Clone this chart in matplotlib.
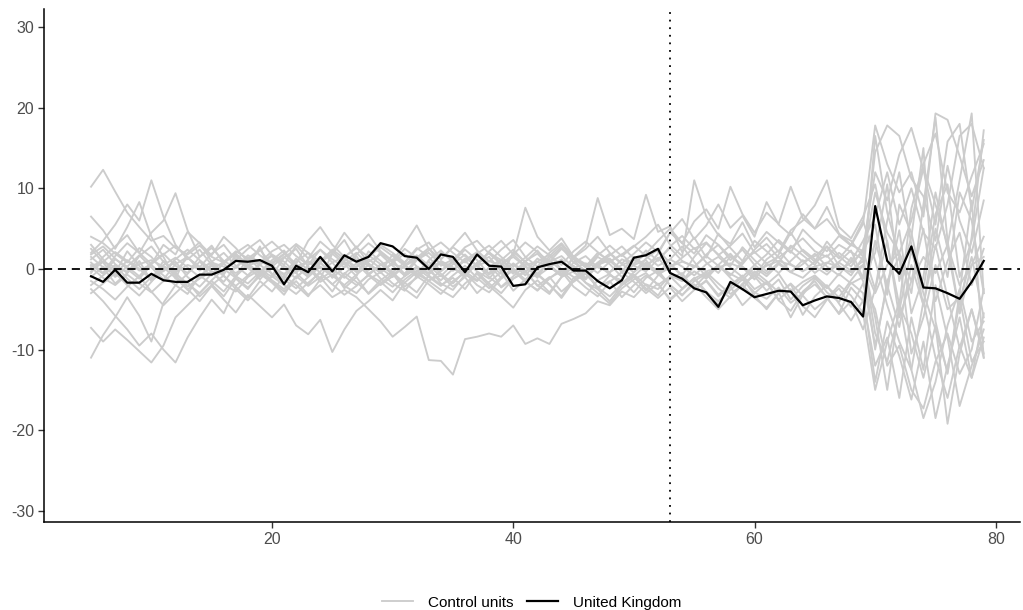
import matplotlib
matplotlib.use("Agg")
import matplotlib.pyplot as plt
from matplotlib.lines import Line2D

plt.rcParams['font.family'] = ['Liberation Sans', 'DejaVu Sans']
plt.rcParams['axes.unicode_minus'] = False

years = list(range(5, 80))
treatment_year = 53

united_kingdom = [
    -0.9, -1.6, -0.1, -1.7, -1.7, -0.6, -1.4, -1.6, -1.6, -0.7, -0.7, -0.1, 1.0, 0.9, 1.1,
    0.4, -1.9, 0.4, -0.4, 1.5, -0.3, 1.7, 0.9, 1.5, 3.2, 2.8, 1.6, 1.4, 0.0, 1.8,
    1.5, -0.4, 1.8, 0.4, 0.3, -2.1, -1.9, 0.2, 0.6, 0.9, -0.2, -0.2, -1.5, -2.4, -1.4,
    1.4, 1.7, 2.5, -0.5, -1.2, -2.4, -2.9, -4.7, -1.6, -2.5, -3.5, -3.1, -2.7, -2.8, -4.5,
    -3.9, -3.4, -3.6, -4.1, -5.9, 7.8, 1.0, -0.6, 2.8, -2.3, -2.4, -3.0, -3.7, -1.6, 1.0,
]

control_01 = [
    10.2, 12.3, 9.6, 7.0, 5.2, 3.5, 4.1, 2.6, 1.8, 2.9, 1.5, 0.8, 2.2, 1.3, 0.5,
    1.8, 0.9, -0.5, 1.2, 2.4, 0.8, 1.5, -0.3, 0.9, 1.8, 0.4, -0.8, 1.1, 2.0, 0.6,
    -0.2, 1.3, 0.5, 2.1, 0.7, -0.6, 1.0, 1.9, 0.3, -0.9, 0.8, 1.6, 0.2, -0.4, 1.2,
    0.6, 2.3, 1.0, 2.8, 4.1, 2.5, 3.3, 1.7, 2.9, 4.4, 2.0, 3.1, 1.4, 2.6, 3.8,
    2.2, 1.5, 3.0, 2.1, 1.2, 14.5, 17.8, 16.5, 11.2, 9.0, 3.5, 12.8, 6.0, 2.0, 8.5,
]
control_02 = [
    6.5, 4.8, 2.5, 5.2, 8.3, 4.0, 1.5, -1.2, 2.0, 3.3, 0.9, -0.5, 1.6, 0.2, 2.8,
    -0.8, 1.4, 2.5, 0.3, -1.2, 1.9, 0.6, -0.9, 2.2, 1.0, -0.4, 0.8, 2.6, 1.5, -0.3,
    0.9, 2.4, 1.1, -0.7, 0.5, 1.8, 0.4, -1.1, 1.3, 2.7, 0.8, -0.2, 1.5, 0.6, -1.0,
    0.7, 1.9, 3.5, 5.0, 3.2, 1.9, 4.2, 3.0, 1.1, 2.4, 0.5, 1.8, 3.6, 2.2, 0.9,
    1.6, 2.8, 0.4, -0.8, 1.5, -8.0, -11.5, -5.2, 2.3, -3.0, -7.5, -12.8, -4.0, 1.5, -6.0,
]
control_03 = [
    -11.0, -8.2, -6.0, -3.5, -5.8, -9.0, -4.2, -2.0, -3.1, -0.8, -1.9, -3.4, -1.2, -2.5, -0.6,
    -1.7, -3.2, -0.9, -2.1, -1.0, -2.8, -0.5, -1.6, -3.0, -1.4, -0.3, -2.2, -1.1, 0.2, -1.8,
    -2.6, -0.7, -1.5, 0.1, -2.3, -1.2, -0.4, -2.0, -3.1, -1.0, 0.3, -1.7, -2.5, -0.8, -1.4,
    -2.9, -1.1, -0.2, -2.0, -3.3, -1.5, -0.6, -2.4, -3.6, -1.8, -0.9, -2.7, -1.3, -3.8, -2.1,
    -1.0, -2.9, -4.1, -1.7, -3.0, -14.0, -6.5, -10.8, -16.2, -9.0, -18.5, -12.0, -6.0, -13.5, -8.5,
]
control_04 = [
    -7.3, -9.0, -7.5, -8.8, -10.2, -11.6, -9.5, -6.0, -4.5, -3.0, -1.5, -2.8, -0.9, 0.5, -1.3,
    0.4, -0.8, 1.3, -0.2, 0.9, -1.1, 0.2, 1.6, -0.6, 0.5, 1.2, -0.9, 0.3, -0.5, 1.0,
    0.2, -1.0, 0.8, 1.5, -0.3, 0.6, -0.8, 0.9, 1.8, -0.1, 0.4, -1.2, 0.7, 1.3, -0.4,
    0.5, 1.1, -0.7, 0.2, 1.4, 2.6, 0.8, -0.5, 1.6, 0.3, -0.9, 1.2, 2.3, 0.6, -0.3,
    0.9, 1.7, -0.2, 0.8, 2.1, 5.5, -3.2, 8.0, 4.5, -2.5, 6.8, 10.5, -1.0, 3.5, 12.5,
]
control_05 = [
    2.0, 3.5, 5.5, 8.0, 6.0, 11.0, 6.5, 3.0, 1.2, 2.4, 0.5, -0.7, 1.8, 0.6, -0.4,
    1.1, 2.3, 0.2, -1.0, 0.8, 1.9, 3.6, 1.0, -0.2, 2.1, 0.9, -0.6, 1.4, 2.6, 0.4,
    1.2, -0.5, 0.7, 2.0, 1.1, -0.4, 0.9, 2.3, 0.5, -0.8, 1.6, 0.3, 2.0, 1.0, -0.3,
    1.5, 0.4, -0.6, 1.2, 2.8, 0.9, -1.0, 0.5, 1.9, 0.2, -1.3, 0.7, 1.5, -0.4, 0.6,
    1.9, 0.3, -0.8, 1.4, -1.5, -9.5, -2.0, -7.2, 0.5, -4.5, 3.0, -3.5, -9.8, -5.0, -10.5,
]
control_06 = [
    0.8, -0.5, 1.6, 3.2, 2.0, 4.5, 6.0, 9.4, 4.8, 1.5, 2.9, 0.7, -0.9, 1.3, 2.4,
    0.5, -1.2, 0.9, 2.0, 0.2, -0.9, 1.4, 2.8, 0.7, -0.4, 1.8, 0.6, -1.0, 1.1, 2.3,
    0.8, -0.6, 1.7, 0.4, -1.1, 2.1, 0.9, -0.2, 1.6, 3.0, 1.2, -0.5, 0.8, 1.9, 0.6,
    -0.4, 1.3, 2.4, 0.7, -0.8, 1.5, 3.2, 1.8, 0.4, 2.7, 1.1, -0.3, 1.8, 4.5, 2.2,
    0.9, 3.4, 1.6, 0.3, 2.5, 12.0, 8.5, 14.2, 17.5, 12.3, 5.5, 15.8, 18.0, 7.2, 16.0,
]
control_07 = [
    -2.5, -4.0, -5.8, -7.5, -9.5, -8.0, -10.0, -11.6, -8.5, -6.0, -3.8, -5.5, -2.2, -3.6, -1.5,
    -2.8, -0.9, -2.0, -3.4, -1.3, -0.2, -2.4, -1.0, -3.1, -1.8, -0.6, -2.5, -3.6, -1.4, -0.8,
    -2.2, -1.0, -3.0, -1.6, -0.4, -2.7, -1.3, -0.7, -2.0, -3.4, -1.1, -0.3, -2.3, -1.5, -3.5,
    -2.0, -0.8, -1.9, -3.7, -2.5, -1.2, -3.0, -4.4, -2.2, -1.0, -3.3, -5.0, -3.0, -1.9, -4.6,
    -6.0, -3.8, -2.4, -4.7, -1.8, -5.0, -12.0, -9.5, -15.0, -17.3, -11.5, -8.0, -13.0, -10.0, -2.5,
]
control_08 = [
    1.5, 0.2, -1.8, -0.5, 1.0, -1.5, -0.2, 0.9, -1.0, -2.2, -0.6, 0.7, -0.9, -1.8, -0.4,
    -1.6, -2.8, -1.5, -3.2, -2.0, -3.5, -2.6, -3.5, -5.0, -6.5, -8.4, -7.2, -5.9, -11.3, -11.4,
    -13.1, -8.7, -8.4, -8.0, -8.4, -7.0, -9.3, -8.6, -9.3, -6.8, -6.2, -5.5, -4.0, -4.5, -2.8,
    -3.5, -1.9, -2.5, -0.8, -1.5, -0.3, -1.2, 0.4, -0.6, -1.4, 0.2, -0.9, 0.6, -0.4, -1.1,
    0.3, -0.7, 0.8, -0.2, 1.0, -6.0, -15.0, -4.5, -8.0, -13.5, -7.0, -19.2, -10.5, -5.0, -11.0,
]
control_09 = [
    3.0, 1.2, -0.5, 2.2, 0.4, -1.4, 1.0, -0.8, -2.5, -4.0, -2.1, -3.8, -5.4, -3.2, -4.6,
    -6.0, -4.4, -7.0, -8.1, -6.3, -10.3, -7.5, -5.2, -4.0, -2.6, -3.9, -1.7, -2.9, -0.8, -2.0,
    -1.1, -2.5, -0.4, -1.8, -3.0, -1.2, -0.2, -2.1, -1.0, -2.8, -1.5, -0.6, -2.3, -3.4, -1.9,
    -0.7, -2.0, -3.3, -1.1, -0.5, -2.6, -1.4, -3.2, -2.0, -0.8, -2.5, -1.6, -3.9, -5.2, -2.8,
    -1.5, -3.6, -5.5, -2.3, -4.0, 3.5, -2.0, 4.8, -5.5, -1.0, 9.5, 2.5, -5.5, 0.5, 4.0,
]
control_10 = [
    0.5, -0.6, 1.2, 0.3, -0.9, 0.8, 1.9, 0.4, -0.5, 1.5, 2.6, 1.0, 0.1, 1.7, 0.8,
    2.2, 3.0, 1.6, 0.5, 2.4, 1.2, 0.2, 1.8, 3.2, 2.0, 0.8, 2.5, 1.4, 0.3, 2.0,
    1.1, 2.7, 3.5, 1.9, 0.6, 1.8, 3.3, 2.1, 0.9, 2.5, 1.3, 0.2, 1.7, 2.9, 1.6,
    2.8, 4.0, 5.5, 3.0, 1.6, 11.0, 6.5, 4.2, 3.1, 5.8, 2.7, 4.6, 3.3, 2.0, 4.9,
    3.4, 2.2, 4.1, 2.9, 5.6, 17.8, 13.0, 9.5, 12.0, 6.5, 19.3, 18.5, 14.0, 9.0, 13.5,
]
control_11 = [
    -0.3, 0.9, 2.1, 1.0, -0.2, 0.6, 1.8, 2.9, 1.4, 0.3, -0.8, 0.7, 1.9, 0.5, -0.6,
    0.8, 1.9, 0.6, -0.7, 1.0, 2.2, 0.9, -0.4, 1.2, 0.1, -1.0, 0.5, 1.7, 0.4, -0.9,
    0.6, 1.8, 0.3, -0.5, 1.1, 2.4, 0.8, -0.6, 0.9, 1.6, 0.2, -1.1, 0.4, 1.7, 2.8,
    1.3, 0.1, 1.9, 4.5, 3.2, 5.9, 7.4, 5.0, 10.2, 6.8, 4.5, 7.0, 5.6, 10.2, 6.3,
    5.0, 6.2, 4.3, 3.5, 1.5, 9.5, 4.5, 2.0, 6.0, 12.5, 8.0, 3.0, 11.0, 19.3, -3.0,
]
control_12 = [
    1.2, 2.4, 0.6, -0.5, 1.6, 2.8, 0.9, -0.3, 1.4, 0.2, 1.9, 3.0, 1.1, 2.5, 3.6,
    1.7, 0.5, 2.9, 1.3, 3.4, 2.1, 4.5, 2.6, 1.5, 3.0, 2.0, 0.8, 2.4, 3.3, 1.2,
    2.7, 1.6, 0.4, 2.2, 3.5, 1.8, 7.6, 4.0, 2.3, 3.8, 1.5, 2.9, 8.8, 4.2, 5.0,
    3.7, 9.2, 4.6, 5.3, 2.1, 3.9, 1.4, 4.4, 2.6, 1.0, 3.5, 2.2, 0.8, 2.9, 1.7,
    0.5, 2.8, 1.3, 3.0, 2.2, -2.5, 3.5, -6.0, -1.5, 5.0, -4.0, 1.0, 4.5, -2.0, 2.5,
]
control_13 = [
    -1.0, 0.3, -0.8, 1.1, 0.0, -1.3, 0.5, 1.4, 0.2, -1.0, 0.6, -0.4, 1.2, 0.1, -0.9,
    0.3, 1.5, 0.2, -0.8, 0.7, -0.3, 1.0, 2.0, 0.6, -0.5, 0.8, 1.9, 0.3, -0.7, 0.9,
    -0.2, 1.1, 2.1, 0.5, -0.6, 0.7, -0.4, 1.3, 0.4, -0.8, 1.5, 0.6, -0.5, 0.9, 1.8,
    0.4, -0.3, 1.2, 2.6, 1.0, 0.2, 1.8, 3.0, 1.5, 0.6, 2.4, 3.9, 2.1, 4.8, 6.0,
    7.9, 11.0, 5.2, 3.8, 6.5, 10.5, 3.2, -4.5, 7.5, 13.0, 16.8, 9.5, 7.0, 11.5, 15.5,
]
control_14 = [
    0.2, -1.1, -2.0, -0.7, -1.8, -2.9, -1.5, -0.4, -2.2, -1.2, -0.3, -1.9, -2.8, -1.0, -0.1,
    -1.4, -2.5, -1.0, 0.2, -1.6, -0.7, -2.1, -3.0, -1.3, -0.4, -1.8, -2.7, -0.9, -1.9, -3.1,
    -1.5, -0.5, -2.0, -2.9, -1.2, -0.2, -1.6, -2.6, -1.1, -0.3, -2.2, -3.3, -1.4, -0.6, -2.0,
    -1.0, -2.4, -3.6, -2.3, -4.0, -2.6, -1.5, -3.4, -2.2, -4.5, -3.0, -1.7, -3.8, -2.5, -5.7,
    -3.4, -2.0, -4.3, -6.4, -3.9, -12.0, -8.5, -16.0, -6.0, -12.5, -2.0, -8.5, -17.0, -12.0, -7.5,
]
control_15 = [
    0.4, 0.9, 0.2, -0.3, 0.6, 1.1, 0.3, -0.4, 0.5, 0.0, 0.8, 0.3, -0.5, 0.4, 1.0,
    0.2, -0.6, 0.3, 0.9, 0.1, -0.4, 0.7, 1.2, 0.4, -0.2, 0.6, 0.1, -0.7, 0.3, 0.8,
    0.0, -0.5, 0.4, 1.0, 0.3, -0.3, 0.5, 0.9, 0.2, -0.6, 0.1, 0.7, 0.3, -0.4, 0.5,
    1.1, 0.6, -0.2, 0.3, 0.9, 0.4, -0.3, 0.2, 0.7, 0.1, -0.5, 0.4, 1.0, 0.5, -0.2,
    0.3, 0.8, 0.2, -0.4, 0.5, -3.0, 0.5, 2.0, -1.5, 1.5, -0.5, 3.0, -2.0, 0.5, 1.5,
]
control_16 = [
    -0.5, 1.5, 2.8, 4.2, 2.0, 0.6, 3.0, 1.8, 4.6, 3.2, 1.7, 4.0, 2.6, 0.9, 2.3,
    3.4, 2.0, 0.6, 3.5, 5.2, 3.0, 1.5, 2.6, 4.3, 2.2, 1.0, 3.1, 5.4, 2.5, 1.2,
    2.8, 4.5, 2.3, 0.9, 2.4, 3.6, 1.5, 0.3, 2.0, 3.2, 1.4, 2.5, 4.0, 2.0, 0.7,
    1.9, 3.3, 2.1, 4.5, 6.2, 3.7, 5.4, 8.0, 5.1, 6.6, 4.0, 8.3, 5.5, 4.2, 6.8,
    5.0, 7.7, 4.4, 3.0, 6.0, 1.0, -4.5, -9.0, -12.5, -4.0, -11.0, -16.0, -9.5, -13.5, -5.5,
]
control_17 = [
    1.8, 2.8, 1.3, 0.0, -1.2, 0.5, -0.8, -2.0, -0.6, 0.9, -0.4, -1.6, 0.3, 1.4, 0.0,
    -1.0, 0.4, -0.5, -1.9, -0.3, 0.8, -0.9, -2.0, -0.8, 0.6, -0.5, -1.7, -0.4, 0.9, -0.6,
    -1.8, -0.2, 0.5, -1.0, -2.2, -0.9, 0.3, -0.6, -1.9, -3.6, -1.5, -0.1, -2.5, -4.0, -2.0,
    -0.9, -2.7, -0.8, 0.6, -0.9, -2.3, -0.7, 0.5, -1.1, -2.6, -0.3, -1.5, -2.9, -6.0, -3.2,
    -1.2, -2.4, -0.6, -1.8, -1.0, 2.0, 10.5, -1.5, 4.0, 15.0, -6.5, -13.0, -3.0, 8.5, -11.0,
]
control_18 = [
    -1.5, -2.5, -3.8, -2.2, -0.9, -2.8, -4.5, -3.0, -1.6, -3.4, -2.0, -0.8, -2.5, -3.9, -2.3,
    -0.9, -2.0, -3.1, -1.7, -0.5, -1.9, -3.2, -2.1, -0.7, -1.6, -2.9, -1.3, -0.2, -1.5, -2.6,
    -3.5, -1.8, -0.6, -2.1, -3.4, -4.8, -2.6, -1.4, -2.9, -1.0, -0.3, -1.7, -3.0, -4.3, -2.4,
    -1.3, -0.5, -2.0, -0.9, -2.4, -1.2, -0.4, -1.8, -3.1, -2.0, -0.7, -1.9, -0.6, -2.8, -1.6,
    -0.8, -2.2, -3.5, -1.4, 0.5, -10.0, -1.5, 1.5, -10.5, -6.0, 0.5, -5.0, -3.5, -11.5, -9.0,
]
control_19 = [
    4.0, 3.2, 1.9, 0.8, 2.6, 1.5, -0.3, 1.2, 2.4, 1.1, -0.1, 0.9, 2.0, 3.0, 1.7,
    0.6, 1.8, 3.1, 2.0, 0.9, 2.4, 1.3, 0.2, 1.5, 2.7, 1.6, 0.4, 1.2, 2.3, 3.3,
    2.0, 0.8, 1.9, 2.9, 1.5, 0.3, 1.4, 2.8, 1.7, 0.5, 2.2, 3.4, 2.1, 0.9, 1.8,
    2.9, 1.6, 0.4, 1.2, 0.3, -0.8, 0.6, 1.5, 0.2, -1.0, 0.5, -0.6, 0.8, -0.4, 1.1,
    -0.5, 0.7, 2.0, 0.9, 3.5, 6.5, 12.0, 5.5, 10.0, 4.5, 2.5, 8.0, 16.5, 18.0, 12.5,
]
control_20 = [
    -3.0, -1.8, -0.5, -2.0, -3.3, -1.6, 0.2, -1.1, -2.6, -1.0, 0.4, -0.9, -2.1, -0.8, 0.5,
    -0.6, -1.7, -0.2, 1.0, -0.5, -1.9, -0.6, 0.7, -0.8, -2.0, -0.9, 0.4, -0.6, -1.5, -0.2,
    1.0, -0.3, -1.4, 0.2, 1.2, -0.1, -1.3, 0.1, 1.1, -0.2, -1.6, -0.5, 0.6, -0.7, -1.8,
    -0.4, 0.8, -0.6, -2.0, -3.2, -1.9, -3.5, -5.0, -3.4, -2.0, -3.6, -4.8, -3.0, -1.8, -3.3,
    -5.0, -3.7, -2.0, -3.3, -5.5, -15.0, -9.0, -4.0, -12.5, -18.5, -14.0, -7.0, -2.5, -9.0, -6.5,
]
control_21 = [
    2.5, 0.8, -1.0, 0.3, 1.7, 0.2, -1.3, 0.6, 1.5, -0.2, 0.9, 2.0, 0.4, -0.8, 0.7,
    1.6, 0.1, -1.2, 0.5, 1.4, 0.0, -1.1, 0.3, 1.7, 0.6, -0.7, 0.4, 1.3, -0.2, -1.4,
    0.0, 1.0, -0.3, -1.2, 0.6, 1.5, 0.3, -0.9, 0.2, 1.2, -0.4, -1.3, 0.5, 1.1, 0.0,
    -0.9, 0.5, 1.4, -0.4, -1.5, 0.3, 1.6, 0.4, -0.8, 0.9, 2.1, 0.7, -0.5, 1.0, 2.4,
    1.2, -0.3, 0.9, 2.3, -1.2, 16.5, 7.0, 1.5, -3.0, 8.0, 18.8, 3.5, -5.5, 4.0, 17.2,
]
control_22 = [
    -2.0, -0.8, 0.5, -1.2, -2.5, -1.0, 0.4, -0.6, -1.8, -3.0, -1.4, 0.0, -1.1, -2.3, -0.9,
    0.2, -1.3, -2.4, -1.0, 0.3, -0.8, -2.0, -0.7, 0.5, -1.2, -2.2, -0.9, 0.1, -1.0, -2.1,
    -0.8, 0.4, -1.1, -2.4, -1.0, 0.1, -1.5, -2.7, -1.2, 0.0, -1.0, -2.3, -3.4, -1.6, -0.4,
    -1.6, -3.0, -1.8, -3.9, -2.5, -1.1, -2.8, -4.0, -2.6, -1.3, -2.9, -3.7, -2.3, -4.2, -3.0,
    -1.9, -3.5, -5.6, -4.0, -7.5, -2.5, 6.0, 12.0, 3.0, -4.5, 5.0, -1.0, 9.5, 6.0, -3.0,
]

controls = [control_01, control_02, control_03, control_04, control_05, control_06,
            control_07, control_08, control_09, control_10, control_11, control_12,
            control_13, control_14, control_15, control_16, control_17, control_18,
            control_19, control_20, control_21, control_22]

y_ticks = [-30, -20, -10, 0, 10, 20, 30]
x_ticks = [20, 40, 60, 80]
legend_labels = ["Control units", "United Kingdom"]

grey = "#cccccc"
fig = plt.figure(figsize=(10.23, 6.10), dpi=100)
ax = fig.add_axes([0.043, 0.144, 0.954, 0.842])

for series in controls:
    ax.plot(years, series, color=grey, lw=1.35, zorder=1)

ax.axhline(0, color="black", lw=1.3, ls=(0, (4.5, 3.2)), zorder=2)
ax.axvline(treatment_year, color="black", lw=1.3, ls=(0, (1, 3.2)), zorder=2)
ax.plot(years, united_kingdom, color="black", lw=1.6, zorder=3)

ax.set_xlim(1.1, 82.0)
ax.set_ylim(-31.4, 32.3)
ax.set_xticks(x_ticks)
ax.set_yticks(y_ticks)
ax.spines["top"].set_visible(False)
ax.spines["right"].set_visible(False)
for s in ("left", "bottom"):
    ax.spines[s].set_linewidth(1.1)
ax.tick_params(axis="both", direction="out", length=4, width=1.0, color="#333333",
               labelcolor="#4d4d4d", labelsize=11.5, pad=3)

handles = [Line2D([0], [0], color=grey, lw=1.35), Line2D([0], [0], color="black", lw=1.6)]
fig.legend(handles, legend_labels, loc="lower center", ncol=2, frameon=False,
           bbox_to_anchor=(0.52, -0.022), fontsize=11, handlelength=2.0,
           columnspacing=0.9, handletextpad=1.0)

fig.savefig("out.png", dpi=100)
